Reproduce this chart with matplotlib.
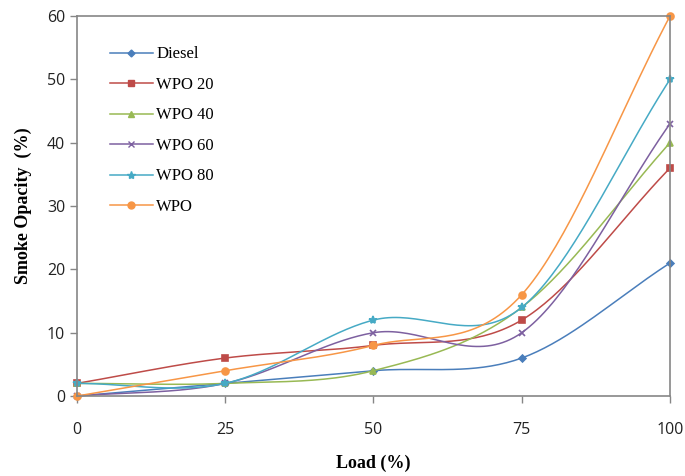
import numpy as np
import matplotlib.pyplot as plt

load = [0, 25, 50, 75, 100]
diesel = [0, 2, 4, 6, 21]
wpo20 = [2, 6, 8, 12, 36]
wpo40 = [2, 2, 4, 14, 40]
wpo60 = [0, 2, 10, 10, 43]
wpo80 = [2, 2, 12, 14, 50]
wpo = [0, 4, 8, 16, 60]

names = ['Diesel', 'WPO 20', 'WPO 40', 'WPO 60', 'WPO 80', 'WPO']
series = [diesel, wpo20, wpo40, wpo60, wpo80, wpo]
colors = ['#4A7EBB', '#BE4B48', '#98B954', '#7D60A0', '#46AAC5', '#F79646']
markers = ['D', 's', '^', 'x', '*', 'o']
msizes = [3.5, 5, 5, 5, 6, 5]


# smoothed line like excel (catmull-rom between the points)
def smooth(x, y, n=40):
    x = np.asarray(x, float)
    y = np.asarray(y, float)
    px = np.concatenate([[2 * x[0] - x[1]], x, [2 * x[-1] - x[-2]]])
    py = np.concatenate([[2 * y[0] - y[1]], y, [2 * y[-1] - y[-2]]])
    xs, ys = [], []
    t = np.linspace(0, 1, n)
    for i in range(1, len(px) - 2):
        for p, out in ((px, xs), (py, ys)):
            p0, p1, p2, p3 = p[i - 1], p[i], p[i + 1], p[i + 2]
            out.append(0.5 * (2 * p1 + (-p0 + p2) * t
                              + (2 * p0 - 5 * p1 + 4 * p2 - p3) * t ** 2
                              + (-p0 + 3 * p1 - 3 * p2 + p3) * t ** 3))
    return np.concatenate(xs), np.concatenate(ys)


fig = plt.figure(figsize=(6.85, 4.76), dpi=100)
ax = fig.add_axes([0.1124, 0.168, 0.8656, 0.798])

for name, ys, c, m, ms in zip(names, series, colors, markers, msizes):
    sx, sy = smooth(load, ys)
    ax.plot(sx, sy, color=c, lw=1.1, clip_on=False)
    ax.plot(load, ys, ls='none', marker=m, ms=ms, color=c, mew=1.2, clip_on=False)
    ax.plot([], [], color=c, marker=m, ms=ms, lw=1.1, label=name)

ax.set_xlim(0, 100)
ax.set_ylim(0, 60)
ax.set_xticks(load)
ax.set_yticks(range(0, 61, 10))
for s in ax.spines.values():
    s.set_color('#868686')
    s.set_linewidth(1.2)
ax.tick_params(colors='#868686', labelcolor='#222222', length=5, width=1,
               labelsize=11.5)
for lab in ax.get_xticklabels() + ax.get_yticklabels():
    lab.set_family('Open Sans')
ax.tick_params(axis='x', pad=14)

ax.set_xlabel('Load (%)', family='Liberation Serif', weight='bold', fontsize=13,
              labelpad=12)
ax.set_ylabel('Smoke Opacity  (%)', family='Liberation Serif', weight='bold',
              fontsize=13, labelpad=11)

leg = ax.legend(loc='upper left', bbox_to_anchor=(0.03, 0.96), frameon=False,
                prop={'family': 'Liberation Serif', 'size': 12},
                handlelength=2.6, labelspacing=0.87, handletextpad=0.2)

fig.savefig('out.png', dpi=100)
